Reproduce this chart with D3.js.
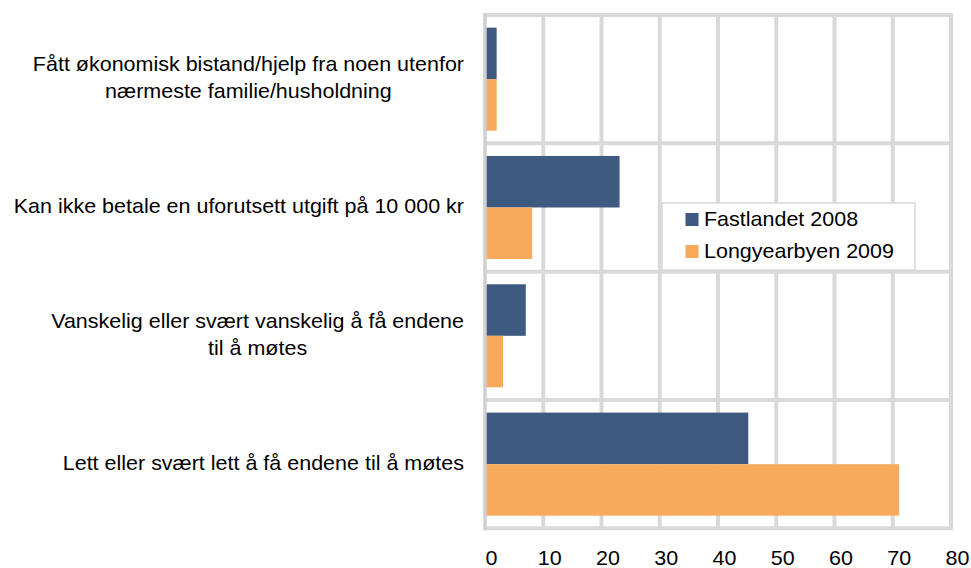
<!DOCTYPE html>
<html>
<head>
<meta charset="utf-8">
<script src="https://cdn.jsdelivr.net/npm/d3@7"></script>
<style>
  html, body { margin: 0; padding: 0; background: #fff; }
  svg { display: block; font-family: "Liberation Sans", Arial, sans-serif; }
</style>
</head>
<body>
<svg id="chart" width="971" height="568"></svg>
<script>
const categories = [
  ["Fått økonomisk bistand/hjelp fra noen utenfor", "nærmeste familie/husholdning"],
  ["Kan ikke betale en uforutsett utgift på 10 000 kr"],
  ["Vanskelig eller svært vanskelig å få endene", "til å møtes"],
  ["Lett eller svært lett å få endene til å møtes"]
];
const seriesNames = ["Fastlandet 2008", "Longyearbyen 2009"];
const fastlandet = [2.0, 23.1, 7.0, 45.2];
const longyearbyen = [2.0, 8.1, 3.1, 71.1];
const xTicks = [0, 10, 20, 30, 40, 50, 60, 70, 80];
const colors = ["#3E5A80", "#F7A95C"];

const svg = d3.select("#chart");
const pLeft = 485, pRight = 951, pTop = 15, pBottom = 528.3;
const FS = 20, SX = 1.075; // font size and horizontal stretch

const x = d3.scaleLinear().domain([0, 80]).range([pLeft, pRight]);
const catKeys = categories.map((c, i) => i);
const y = d3.scaleBand().domain(catKeys).range([pTop, pBottom]).padding(0);
const inner = d3.scaleBand().domain([0, 1]).range([0, y.bandwidth()])
  .paddingInner(0).paddingOuter(0.245);

const grid = "#d9d9d9";

function stretchedText(parent, tx, ty, str, anchor) {
  return parent.append("text")
    .attr("transform", `translate(${tx},${ty}) scale(${SX},1)`)
    .attr("font-size", FS).attr("fill", "#000")
    .attr("text-anchor", anchor || "start")
    .text(str);
}

// vertical gridlines
svg.append("g").selectAll("line").data(xTicks.slice(1)).join("line")
  .attr("x1", d => x(d)).attr("x2", d => x(d))
  .attr("y1", pTop).attr("y2", pBottom)
  .attr("stroke", grid).attr("stroke-width", 4);

// horizontal gridlines (category boundaries)
const bounds = catKeys.map(k => y(k)).concat([pBottom]);
svg.append("g").selectAll("line").data(bounds).join("line")
  .attr("x1", pLeft).attr("x2", pRight + 2)
  .attr("y1", d => d).attr("y2", d => d)
  .attr("stroke", grid).attr("stroke-width", 4);

// bars
const series = [fastlandet, longyearbyen];
series.forEach((vals, si) => {
  svg.append("g").selectAll("rect").data(vals).join("rect")
    .attr("x", x(0))
    .attr("y", (d, i) => y(i) + inner(si))
    .attr("width", d => x(d) - x(0))
    .attr("height", inner.bandwidth())
    .attr("fill", colors[si]);
});

// left axis line
svg.append("line")
  .attr("x1", pLeft).attr("x2", pLeft)
  .attr("y1", pTop - 2).attr("y2", pBottom + 2)
  .attr("stroke", "#cfcfcf").attr("stroke-width", 3.5);

// x axis labels
const xAxis = d3.axisBottom(x).tickValues(xTicks).tickSize(0).tickPadding(0);
const gx = svg.append("g").attr("transform", `translate(6, 565)`).call(xAxis);
gx.select(".domain").remove();
gx.selectAll("text").attr("dy", null).attr("y", 0)
  .attr("font-size", FS).attr("fill", "#000")
  .attr("transform", `scale(${SX},1)`)
  .attr("font-family", '"Liberation Sans", Arial, sans-serif');

// category labels
const labelRight = 464;
const lineH = 26.7;
categories.forEach((lines, i) => {
  const g = svg.append("g");
  const cy = y(i) + y.bandwidth() / 2;
  const texts = lines.map((t, li) =>
    stretchedText(g, 0, cy + (li - (lines.length - 1) / 2) * lineH - 1.5 + 7, t, "middle"));
  const maxW = d3.max(texts, t => t.node().getComputedTextLength()) * SX;
  texts.forEach((t, li) => {
    const ty = cy + (li - (lines.length - 1) / 2) * lineH - 1.5 + 7;
    t.attr("transform", `translate(${labelRight - maxW / 2},${ty}) scale(${SX},1)`);
  });
});

// legend
const lg = svg.append("g");
lg.append("rect").attr("x", 662).attr("y", 203).attr("width", 253).attr("height", 67)
  .attr("fill", "#fff").attr("stroke", grid).attr("stroke-width", 1.5);
seriesNames.forEach((name, i) => {
  const by = 226 + i * 32;
  lg.append("rect").attr("x", 685.5).attr("y", by - 13).attr("width", 13).attr("height", 13)
    .attr("fill", colors[i]);
  stretchedText(lg, 704, by, name, "start");
});
</script>
</body>
</html>
